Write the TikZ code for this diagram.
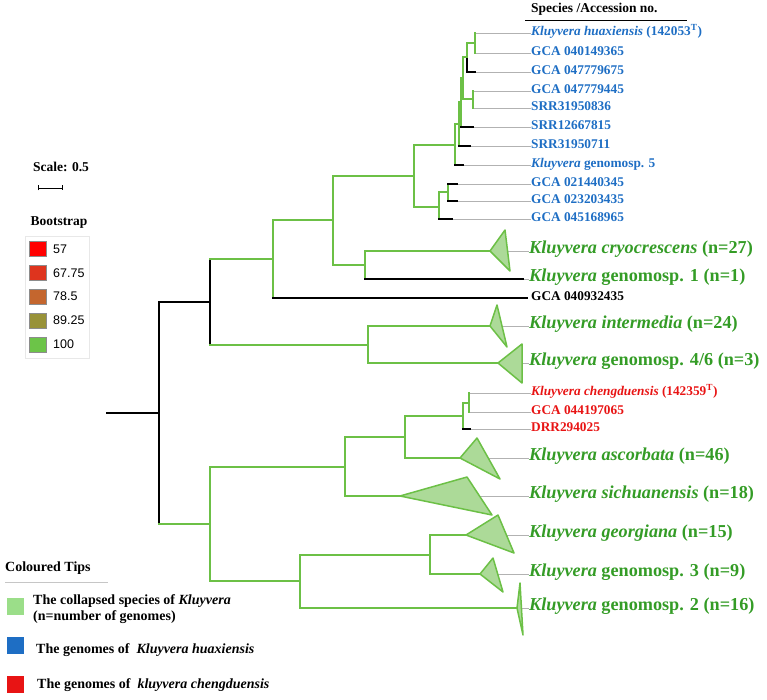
\documentclass[tikz,border=0pt]{standalone}
\usepackage{fontspec}
\setmainfont{Liberation Serif}
\newfontfamily\legendsans{Liberation Sans}
\definecolor{branchgreen}{RGB}{108, 192, 70}
\definecolor{cladefill}{RGB}{172, 218, 152}
\definecolor{labelgreen}{RGB}{52, 156, 38}
\definecolor{tipblue}{RGB}{30, 110, 196}
\definecolor{tipred}{RGB}{232, 20, 20}
\definecolor{leadergray}{RGB}{178, 178, 178}
\definecolor{bsA}{RGB}{255, 0, 0}
\definecolor{bsB}{RGB}{222, 52, 30}
\definecolor{bsC}{RGB}{196, 102, 46}
\definecolor{bsD}{RGB}{152, 146, 56}
\definecolor{bsE}{RGB}{108, 196, 72}
\usetikzlibrary{arrows.meta, calc}
\tikzset{
    branch/.style={draw=branchgreen, line width=2.8pt, line cap=rect},
    blackbranch/.style={draw=black, line width=2.8pt, line cap=rect},
    leader/.style={draw=leadergray, line width=.7pt},
    clade/.style={draw=branchgreen, fill=cladefill, line width=1.5pt,
        line join=round},
    tiplabel/.style={anchor=west, inner sep=0pt, text height=.75em,
        text depth=.25em, font=\bfseries\fontsize{13.3}{15}\selectfont},
    cladelabel/.style={tiplabel, text=labelgreen,
        font=\bfseries\fontsize{18.2}{20}\selectfont},
    legendtext/.style={anchor=west, inner sep=0pt,
        font=\bfseries\fontsize{14}{16}\selectfont},
    bsbox/.style={draw=black!45, minimum width=17pt, minimum height=15pt,
        inner sep=0pt},
    bstext/.style={anchor=west, inner sep=0pt,
        font=\legendsans\fontsize{12.5}{14}\selectfont},
}

\begin{document}
\begin{tikzpicture}[x=1pt, y=-1pt]
    \useasboundingbox (0,0) rectangle (767,700);

    % internal nodes
    \coordinate (root) at (107,413);
    \coordinate (nA) at (159,413);
    \coordinate (nB) at (210,302);
    \coordinate (nC) at (273,259);
    \coordinate (nD) at (333,220);
    \coordinate (nE) at (414,176);
    \coordinate (nF) at (439,207);
    \coordinate (nG) at (448,192);
    \coordinate (nN1) at (455,145);
    \coordinate (nN2) at (459,124);
    \coordinate (nN3) at (461,102);
    \coordinate (nN4) at (463,78);
    \coordinate (nN5) at (467,57);
    \coordinate (nN6) at (473,99);
    \coordinate (nN7) at (475,43);
    \coordinate (nH) at (365,265);
    \coordinate (nI) at (368,345);
    \coordinate (nJ) at (210,524);
    \coordinate (nK) at (345,467);
    \coordinate (nL) at (405,437);
    \coordinate (nM) at (463,416);
    \coordinate (nM2) at (469,403);
    \coordinate (nN) at (300,581);
    \coordinate (nO) at (430,555);

    % tips
    \coordinate (tHuax) at (475,33);
    \coordinate (t40149365) at (475,53);
    \coordinate (t47779675) at (475,72);
    \coordinate (t47779445) at (473,91);
    \coordinate (t31950836) at (473,108);
    \coordinate (t12667815) at (473,127);
    \coordinate (t31950711) at (470,146);
    \coordinate (tGeno5) at (463,165);
    \coordinate (t21440345) at (457,184);
    \coordinate (t23203435) at (457,201);
    \coordinate (t45168965) at (452,219);
    \coordinate (tGeno1) at (523,279);
    \coordinate (t40932435) at (527,298);
    \coordinate (tCheng) at (469,393);
    \coordinate (t44197065) at (469,412);
    \coordinate (tDRR) at (470,429);

    % collapsed clades (apex)
    \coordinate (cCryo) at (490,251);
    \coordinate (cInter) at (490,326);
    \coordinate (cGeno46) at (498,363);
    \coordinate (cAsc) at (460,458);
    \coordinate (cSich) at (400,496);
    \coordinate (cGeorg) at (466,535);
    \coordinate (cGeno3) at (480,574);
    \coordinate (cGeno2) at (517,608);

    \coordinate (labx) at (531,0);
    \coordinate (cladex) at (529,0);

    % labels and leaders
    \foreach \tp/\txt in {tHuax/{{\itshape Kluyvera huaxiensis} (142053\textsuperscript{T})},
            t40149365/{GCA 040149365}, t47779675/{GCA 047779675},
            t47779445/{GCA 047779445}, t31950836/{SRR31950836},
            t12667815/{SRR12667815}, t31950711/{SRR31950711},
            tGeno5/{{\itshape Kluyvera} genomosp. 5},
            t21440345/{GCA 021440345}, t23203435/{GCA 023203435},
            t45168965/{GCA 045168965}}{
        \node[tiplabel, text=tipblue] (l\tp) at (\tp -| labx) {\txt};
        \draw[leader] (\tp) -- (l\tp.west);
    }
    \foreach \tp/\txt in {tCheng/{{\itshape Kluyvera chengduensis} (142359\textsuperscript{T})},
            t44197065/{GCA 044197065}, tDRR/{DRR294025}}{
        \node[tiplabel, text=tipred] (l\tp) at (\tp -| labx) {\txt};
        \draw[leader] (\tp) -- (l\tp.west);
    }
    \node[tiplabel] (lt40932435) at (t40932435 -| labx) {GCA 040932435};
    \foreach \tp/\txt in {cCryo/{{\itshape Kluyvera cryocrescens} (n=27)},
            tGeno1/{{\itshape Kluyvera} genomosp. 1 (n=1)},
            cInter/{{\itshape Kluyvera intermedia} (n=24)},
            cGeno46/{{\itshape Kluyvera} genomosp. 4/6 (n=3)},
            cAsc/{{\itshape Kluyvera ascorbata} (n=46)},
            cSich/{{\itshape Kluyvera sichuanensis} (n=18)},
            cGeorg/{{\itshape Kluyvera georgiana} (n=15)},
            cGeno3/{{\itshape Kluyvera} genomosp. 3 (n=9)},
            cGeno2/{{\itshape Kluyvera} genomosp. 2 (n=16)}}{
        \node[cladelabel] (l\tp) at (\tp -| cladex) {\txt};
        \draw[leader] (\tp) -- (l\tp.west);
    }

    % vertical connectors
    \foreach \nd/\up/\dn in {nC/nD/t40932435, nD/nE/nH, nE/nN1/nF, nF/nG/t45168965,
            nG/t21440345/t23203435, nN1/nN2/tGeno5, nN2/nN3/t31950711,
            nN3/nN4/t12667815, nN4/nN5/nN6, nN7/tHuax/t40149365,
            nN6/t47779445/t31950836, nH/cCryo/tGeno1, nI/cInter/cGeno46,
            nJ/nK/nN, nK/nL/cSich, nL/nM/cAsc, nM/nM2/tDRR,
            nM2/tCheng/t44197065, nN/nO/cGeno2, nO/cGeorg/cGeno3}{
        \draw[branch] (\nd |- \up) -- (\nd |- \dn);
    }
    \draw[branch] (nN5 |- nN7) -- (nN5);
    \draw[blackbranch] (nN5) -- (nN5 |- t47779675);
    \draw[blackbranch] (nA |- nB) -- (nA |- nJ);
    \draw[blackbranch] (nB |- nC) -- (nB |- nI);

    % horizontal branches
    \foreach \nd/\ch in {nA/nJ, nB/nC, nB/nI, nC/nD, nD/nE, nD/nH, nE/nN1, nE/nF,
            nF/nG, nN1/nN2, nN2/nN3, nN3/nN4, nN4/nN5, nN4/nN6, nN5/nN7,
            nH/cCryo, nI/cInter, nI/cGeno46, nJ/nK, nJ/nN, nK/nL, nK/cSich,
            nL/nM, nL/cAsc, nM/nM2, nN/nO, nN/cGeno2, nO/cGeorg, nO/cGeno3}{
        \draw[branch] (\nd |- \ch) -- (\ch);
    }
    \foreach \nd/\ch in {root/nA, nA/nB, nC/t40932435, nH/tGeno1, nN1/tGeno5,
            nN2/t31950711, nN3/t12667815, nN5/t47779675, nG/t21440345,
            nG/t23203435, nF/t45168965, nM/tDRR}{
        \draw[blackbranch] (\nd |- \ch) -- (\ch);
    }

    % collapsed triangles
    \foreach \cl/\ax/\ay/\bx/\by in {cCryo/15/-21/5/41, cInter/7/-21/10/42,
            cGeno46/24/-19/0/39, cAsc/17/-20/23/41, cSich/67/-19/25/38,
            cGeorg/32/-20/16/38, cGeno3/13/-16/10/34, cGeno2/3/-25/3/52}{
        \filldraw[clade] (\cl) -- ++(\ax,\ay) -- ++(\bx,\by) -- cycle;
    }

    % header
    \node[tiplabel, font=\bfseries\fontsize{13.5}{15}\selectfont] (header)
        at (531,10) {Species /Accession no.};
    \draw[line width=.9pt] (525,20) -- (687,20);

    % scale and bootstrap legend
    \node[font=\bfseries\fontsize{13.5}{15}\selectfont, inner sep=0pt]
        (scaletitle) at (61,167) {Scale: 0.5};
    \draw[line width=.9pt, {Bar[width=5pt]}-{Bar[width=5pt]}] (38,188) -- (63,188);
    \node[font=\bfseries\fontsize{13.5}{15}\selectfont, inner sep=0pt]
        (bstitle) at (59,223) {Bootstrap};
    \draw[gray!18, line width=.6pt] (25,236) rectangle (89,358);
    \foreach \i/\col/\val in {0/bsA/57, 1/bsB/67.75, 2/bsC/78.5, 3/bsD/89.25,
            4/bsE/100}{
        \node[bsbox, fill=\col] (box\i) at (37.5,249+23.8*\i) {};
        \node[bstext] (val\i) at (53,249+23.8*\i) {\val};
    }

    % coloured tips legend
    \node[legendtext] (tipstitle) at (5,568) {Coloured Tips};
    \draw[gray!45, line width=.8pt] (5,582) -- (108,582);
    \fill[cladefill!90!green] (7,598) rectangle (24,615);
    \fill[tipblue] (7,637) rectangle (24,654);
    \fill[tipred] (7,676) rectangle (24,693);
    \node[legendtext, align=left] (keygreen) at (33,609)
        {The collapsed species of {\itshape Kluyvera}\\(n=number of genomes)};
    \node[legendtext] (keyblue) at (36,650)
        {The genomes of\ \ {\itshape Kluyvera huaxiensis}};
    \node[legendtext] (keyred) at (37,685)
        {The genomes of\ \ {\itshape kluyvera chengduensis}};
\end{tikzpicture}
\end{document}
